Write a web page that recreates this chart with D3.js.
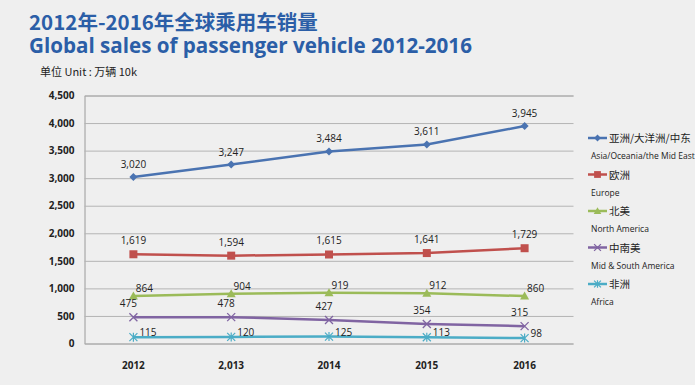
<!DOCTYPE html>
<html><head><meta charset="utf-8">
<script src="https://cdn.jsdelivr.net/npm/d3@7"></script>
<style>
html,body{margin:0;padding:0;background:#efefef;}
svg{display:block;font-family:"Open Sans","Noto Sans","Noto Sans CJK SC",sans-serif;}
</style></head><body>
<svg id="c" width="695" height="385"></svg>
<script>
const categories = ["2012", "2,013", "2014", "2015", "2016"];
const asia = [3020, 3247, 3484, 3611, 3945];
const europe = [1619, 1594, 1615, 1641, 1729];
const northAmerica = [864, 904, 919, 912, 860];
const midSouth = [475, 478, 427, 354, 315];
const africa = [115, 120, 125, 113, 98];
const yTicks = [0, 500, 1000, 1500, 2000, 2500, 3000, 3500, 4000, 4500];
const seriesNamesZh = ["亚洲/大洋洲/中东", "欧洲", "北美", "中南美", "非洲"];
const seriesNamesEn = ["Asia/Oceania/the Mid East", "Europe", "North America", "Mid & South America", "Africa"];

const series = [
  {zh: seriesNamesZh[0], en: seriesNamesEn[0], values: asia, color: "#4a73b1", marker: "diamond", dx: 0, dy: -9, anchor: "middle"},
  {zh: seriesNamesZh[1], en: seriesNamesEn[1], values: europe, color: "#c0504d", marker: "square", dx: 0, dy: -10, anchor: "middle"},
  {zh: seriesNamesZh[2], en: seriesNamesEn[2], values: northAmerica, color: "#9bbb59", marker: "triangle", dx: 11, dy: -4, anchor: "middle"},
  {zh: seriesNamesZh[3], en: seriesNamesEn[3], values: midSouth, color: "#8064a2", marker: "x", dx: -5, dy: -10, anchor: "middle"},
  {zh: seriesNamesZh[4], en: seriesNamesEn[4], values: africa, color: "#4bacc6", marker: "star", dx: 6, dy: -1, anchor: "start"}
];

const svg = d3.select("#c");
const L = 84.5, R = 573.5, T = 95.5, B = 343.5;
const x = d3.scaleBand().domain(categories).range([L, R]).padding(0);
const cx = c => x(c) + x.bandwidth() / 2;
const y = d3.scaleLinear().domain([0, 4500]).range([B, T]);
const fmt = d3.format(",");

// titles
svg.append("text").attr("x", 29).attr("y", 30).attr("fill", "#2b5ea7")
  .attr("font-size", 20.5).attr("font-weight", "bold")
  .attr("font-family", "'Noto Sans CJK SC','Open Sans',sans-serif").text("2012年-2016年全球乘用车销量");
svg.append("text").attr("x", 29).attr("y", 53).attr("fill", "#2b5ea7")
  .attr("font-size", 20.6).attr("font-weight", "bold").text("Global sales of passenger vehicle 2012-2016");
svg.append("text").attr("x", 40).attr("y", 76).attr("fill", "#222")
  .attr("font-size", 11).attr("font-family", "'Noto Sans CJK SC','Open Sans',sans-serif").text("单位 Unit : 万辆 10k");

// grid
const yAxis = d3.axisLeft(y).tickValues(yTicks).tickSize(-(R - L)).tickFormat(fmt);
const gy = svg.append("g").attr("transform", `translate(${L},0)`).call(yAxis);
gy.select(".domain").attr("stroke", "#9a9a9a");
gy.selectAll(".tick line").attr("stroke", "#b4b4b4").attr("stroke-width", 1);
gy.selectAll(".tick text").attr("x", -10).attr("fill", "#222").attr("font-size", 10)
  .attr("font-weight", "bold").attr("font-family", "'Open Sans',sans-serif");

const xAxis = d3.axisBottom(x).tickSize(0);
const gx = svg.append("g").attr("transform", `translate(0,${B})`).call(xAxis);
gx.select(".domain").remove();
gx.selectAll(".tick text").attr("dy", 0).attr("y", 25).attr("fill", "#222").attr("font-size", 10)
  .attr("font-weight", "bold").attr("font-family", "'Open Sans',sans-serif");

function drawMarker(g, type, color, px, py, s) {
  s = s || 1;
  if (type === "diamond") {
    g.append("path").attr("d", `M${px},${py-4*s}L${px+4*s},${py}L${px},${py+4*s}L${px-4*s},${py}Z`).attr("fill", color);
  } else if (type === "square") {
    g.append("rect").attr("x", px-4*s).attr("y", py-4*s).attr("width", 8*s).attr("height", 8*s).attr("fill", color);
  } else if (type === "triangle") {
    g.append("path").attr("d", `M${px},${py-4.5*s}L${px+4.5*s},${py+3.5*s}L${px-4.5*s},${py+3.5*s}Z`).attr("fill", color);
  } else if (type === "x") {
    g.append("path").attr("d", `M${px-4*s},${py-4*s}L${px+4*s},${py+4*s}M${px+4*s},${py-4*s}L${px-4*s},${py+4*s}`).attr("stroke", color).attr("stroke-width", 1.3);
  } else if (type === "star") {
    g.append("path").attr("d", `M${px-4*s},${py-4*s}L${px+4*s},${py+4*s}M${px+4*s},${py-4*s}L${px-4*s},${py+4*s}M${px},${py-4.5*s}L${px},${py+4.5*s}`).attr("stroke", color).attr("stroke-width", 1.2);
  }
}

const line = d3.line().x((d, i) => cx(categories[i])).y(d => y(d));
series.forEach(s => {
  const g = svg.append("g");
  g.append("path").datum(s.values).attr("d", line).attr("fill", "none")
    .attr("stroke", s.color).attr("stroke-width", 2.5).attr("stroke-linejoin", "round");
  s.values.forEach((v, i) => drawMarker(g, s.marker, s.color, cx(categories[i]), y(v)));
  s.values.forEach((v, i) => {
    g.append("text").attr("x", cx(categories[i]) + s.dx).attr("y", y(v) + s.dy)
      .attr("text-anchor", s.anchor).attr("fill", "#222").attr("font-size", 10).text(fmt(v));
  });
});

// legend
const lg = svg.append("g");
series.forEach((s, i) => {
  const yy = 138 + i * 36.5;
  lg.append("line").attr("x1", 588).attr("x2", 607).attr("y1", yy).attr("y2", yy)
    .attr("stroke", s.color).attr("stroke-width", 2.5);
  drawMarker(lg, s.marker, s.color, 597.5, yy, 0.85);
  lg.append("text").attr("x", 609).attr("y", yy + 4).attr("fill", "#222").attr("font-size", 10.5)
    .attr("font-family", "'Noto Sans CJK SC',sans-serif").text(s.zh);
  lg.append("text").attr("x", 591).attr("y", yy + 21).attr("fill", "#222").attr("font-size", 8.5)
    .text(s.en);
});
</script>
</body></html>
